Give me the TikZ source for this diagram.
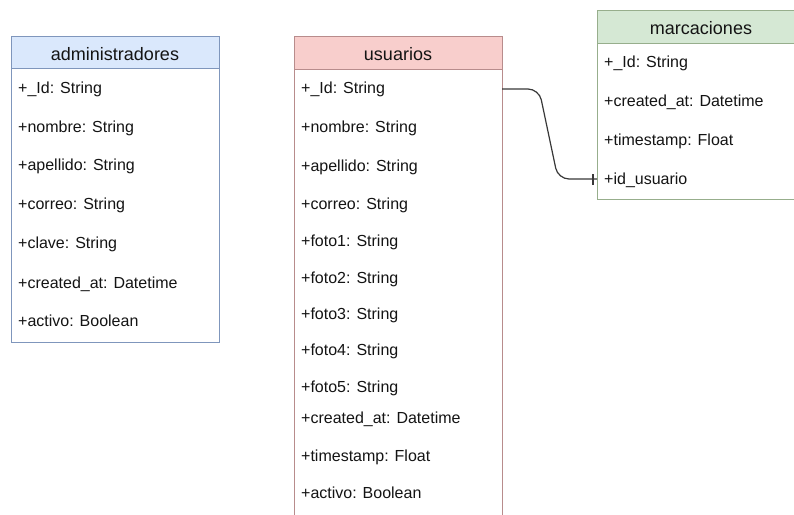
\documentclass[tikz,border=0pt]{standalone}
\usepackage{fontspec}
\setmainfont{Liberation Sans}
\begin{document}
\begin{tikzpicture}[x=1pt,y=-1pt,
  tbox/.style={draw=#1, line width=1pt, fill=white},
  thead/.style={draw=#1, line width=1pt},
  htext/.style={anchor=base, font=\fontsize{18}{20}\selectfont, text=black!92, inner sep=0pt},
  rtext/.style={anchor=base west, font=\fontsize{16}{18}\selectfont, text=black!92, inner sep=0pt},
  conn/.style={draw=black!78, line width=1.2pt, rounded corners=11pt},
  tick/.style={draw=black!78, line width=1.2pt}
]
\definecolor{bluefill}{HTML}{DAE8FC}
\definecolor{blueline}{HTML}{7F96BC}
\definecolor{redfill}{HTML}{F8CECC}
\definecolor{redline}{HTML}{B88C8C}
\definecolor{greenfill}{HTML}{D5E8D4}
\definecolor{greenline}{HTML}{97AE8C}
\clip (0,0) rectangle (794,514);
\fill[white] (0,0) rectangle (794,514);

% administradores
\path[tbox=blueline] (11,36) rectangle (219,342);
\path[thead=blueline, fill=bluefill] (11,36) rectangle (219,68);
\node[htext] (adm) at (115,60) {administradores};
\node[rtext] (a1) at (18,93) {+\_Id: String};
\node[rtext] (a2) at (18,132) {+nombre: String};
\node[rtext] (a3) at (18,170) {+apellido: String};
\node[rtext] (a4) at (18,209) {+correo: String};
\node[rtext] (a5) at (18,248) {+clave: String};
\node[rtext] (a6) at (18,288) {+created\_at: Datetime};
\node[rtext] (a7) at (18,326) {+activo: Boolean};

% usuarios
\path[tbox=redline] (294,36) rectangle (502,540);
\path[thead=redline, fill=redfill] (294,36) rectangle (502,69);
\node[htext] (usu) at (398,60) {usuarios};
\node[rtext] (u1) at (301,93) {+\_Id: String};
\node[rtext] (u2) at (301,132) {+nombre: String};
\node[rtext] (u3) at (301,171) {+apellido: String};
\node[rtext] (u4) at (301,209) {+correo: String};
\node[rtext] (u5) at (301,246) {+foto1: String};
\node[rtext] (u6) at (301,283) {+foto2: String};
\node[rtext] (u7) at (301,319) {+foto3: String};
\node[rtext] (u8) at (301,355) {+foto4: String};
\node[rtext] (u9) at (301,392) {+foto5: String};
\node[rtext] (u10) at (301,423) {+created\_at: Datetime};
\node[rtext] (u11) at (301,461) {+timestamp: Float};
\node[rtext] (u12) at (301,498) {+activo: Boolean};

% marcaciones
\path[tbox=greenline] (597,10) rectangle (805,199);
\path[thead=greenline, fill=greenfill] (597,10) rectangle (805,43);
\node[htext] (mar) at (701,34) {marcaciones};
\node[rtext] (m1) at (604,67) {+\_Id: String};
\node[rtext] (m2) at (604,106) {+created\_at: Datetime};
\node[rtext] (m3) at (604,145) {+timestamp: Float};
\node[rtext] (m4) at (604,184) {+id\_usuario};

% connector
\coordinate (cs) at (502,89);
\coordinate (ce) at (597,179);
\path[conn] (cs) -- (539,89) -- (558,179) -- (ce);
\coordinate (t1) at (593,174);
\coordinate (t2) at (593,185);
\path[tick] (t1) -- (t2);
\end{tikzpicture}
\end{document}
